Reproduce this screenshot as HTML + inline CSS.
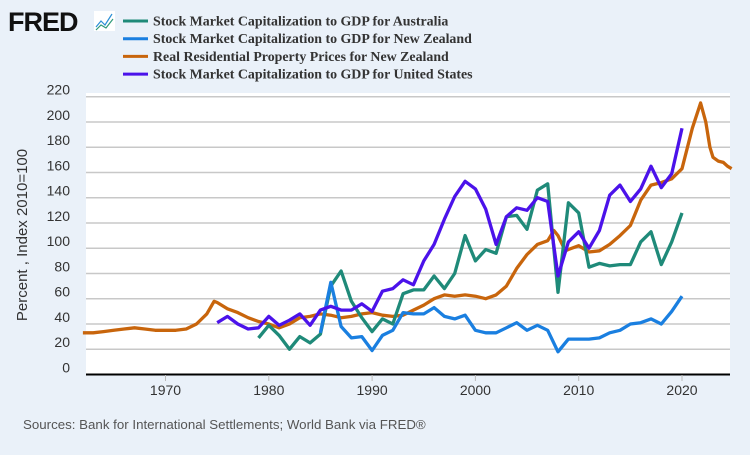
<!DOCTYPE html>
<html><head><meta charset="utf-8"><style>
body{margin:0;background:#eaf1f9;width:750px;height:450px;overflow:hidden;font-family:"Liberation Sans",sans-serif}
</style></head><body>
<svg width="750" height="450">
<rect x="0" y="0" width="750" height="450" fill="#eaf1f9"/>
<text x="8" y="31" font-size="27" font-weight="bold" fill="#111" font-family="Liberation Sans" letter-spacing="-1">FRED</text>
<g><rect x="94" y="11" width="21" height="20" fill="#fff"/><polyline points="96,27 101,21 105,25 112,14" fill="none" stroke="#2a8fd6" stroke-width="1.2"/><polyline points="96,30 101,25 106,28 113,19" fill="none" stroke="#2e9a78" stroke-width="1.2"/></g>
<g id="legend" font-family="Liberation Serif" font-weight="bold" font-size="13.9" fill="#333"></g>
<rect x="86" y="93" width="644" height="282" fill="#fff"/>
<g id="grid"></g><g id="series"></g><g id="axes"></g>
<text transform="translate(27,235) rotate(-90)" text-anchor="middle" font-size="15" fill="#333">Percent , Index 2010=100</text>
<text x="23" y="429" font-size="13.3" fill="#555">Sources: Bank for International Settlements; World Bank via FRED®</text>
</svg>
<script>
const yTicks=[0,20,40,60,80,100,120,140,160,180,200,220];
const xTicks=[1970,1980,1990,2000,2010,2020];
const seriesNames=["Stock Market Capitalization to GDP for Australia","Stock Market Capitalization to GDP for New Zealand","Real Residential Property Prices for New Zealand","Stock Market Capitalization to GDP for United States"];
const seriesColors=["#1f8a79","#1a7fe0","#c8650c","#4b12ea"];
const auYears=[1979,1980,1981,1982,1983,1984,1985,1986,1987,1988,1989,1990,1991,1992,1993,1994,1995,1996,1997,1998,1999,2000,2001,2002,2003,2004,2005,2006,2007,2008,2009,2010,2011,2012,2013,2014,2015,2016,2017,2018,2019,2020];
const auValues=[29,39,31,20,30,25,32,70,82,58,45,34,44,40,64,67,67,78,68,80,110,90,99,96,125,126,115,146,151,65,136,128,85,88,86,87,87,105,113,87,105,128];
const nzYears=[1985,1986,1987,1988,1989,1990,1991,1992,1993,1994,1995,1996,1997,1998,1999,2000,2001,2002,2003,2004,2005,2006,2007,2008,2009,2010,2011,2012,2013,2014,2015,2016,2017,2018,2019,2020];
const nzValues=[33,73,38,29,30,19,31,35,49,48,48,53,46,44,47,35,33,33,37,41,35,39,35,18,28,28,28,29,33,35,40,41,44,40,50,62];
const propYears=[1962,1963,1964,1965,1966,1967,1968,1969,1970,1971,1972,1973,1974,1974.7,1975,1976,1977,1978,1979,1980,1981,1982,1983,1984,1985,1986,1987,1988,1989,1990,1991,1992,1993,1994,1995,1996,1997,1998,1999,2000,2001,2002,2003,2004,2005,2006,2007,2007.6,2008,2008.7,2009,2010,2011,2012,2013,2014,2015,2016,2017,2018,2019,2020,2021,2021.8,2022.3,2022.7,2023,2023.5,2024,2024.4,2024.8];
const propValues=[33,33,34,35,36,37,36,35,35,35,36,40,48,58,57,52,49,45,42,40,37,40,45,46,48,47,45,46,48,49,47,46,47,51,55,60,63,62,63,62,60,63,70,84,95,103,106,114,110,98,99,102,97,98,103,110,118,138,150,152,155,163,195,215,200,180,172,169,168,165,163];
const usYears=[1975,1976,1977,1978,1979,1980,1981,1982,1983,1984,1985,1986,1987,1988,1989,1990,1991,1992,1993,1994,1995,1996,1997,1998,1999,2000,2001,2002,2003,2004,2005,2006,2007,2008,2009,2010,2011,2012,2013,2014,2015,2016,2017,2018,2019,2020];
const usValues=[41,46,40,36,37,46,39,43,48,39,51,54,51,51,56,50,66,68,75,71,90,103,123,141,153,147,131,103,125,132,130,140,137,78,105,113,100,114,142,150,137,147,165,148,159,195];
const NS="http://www.w3.org/2000/svg";
const X=y=>165.5+(y-1970)*10.33;
const Y=v=>374.5-v*(277.8/220);
function mk(t,a,p){const e=document.createElementNS(NS,t);for(const k in a)e.setAttribute(k,a[k]);p.appendChild(e);return e;}
const grid=document.getElementById('grid'),axes=document.getElementById('axes'),series=document.getElementById('series'),legend=document.getElementById('legend');
yTicks.forEach(v=>{
  if(v>0){const l=mk('line',{x1:86,x2:730,y1:Y(v),y2:Y(v),stroke:'#c8c8c8','stroke-width':1.5},grid);
  
  }
  const t=mk('text',{x:70,y:Y(v)-2,'text-anchor':'end','font-size':14,fill:'#333'},axes);t.textContent=v;
  
  
});
const ax=mk('line',{x1:86,x2:730,y1:374.5,y2:374.5,stroke:'#000','stroke-width':2},axes);


xTicks.forEach(y=>{
  const tk=mk('line',{x1:X(y),x2:X(y),y1:375,y2:381,stroke:'#bbb','stroke-width':1},axes);
  
  
  const t=mk('text',{x:X(y),y:395,'text-anchor':'middle','font-size':14,fill:'#333'},axes);t.textContent=y;
  
  
});
const data=[[auYears,auValues],[nzYears,nzValues],[propYears,propValues],[usYears,usValues]];
const order=[2,0,1,3];
order.forEach(i=>{
  const [xs,vs]=data[i];
  const pl=mk('polyline',{points:xs.map((x,j)=>X(x).toFixed(1)+','+Y(vs[j]).toFixed(1)).join(' '),fill:'none',stroke:seriesColors[i],'stroke-width':3.3,'stroke-linejoin':'round'},series);
  
  
});
seriesNames.forEach((n,i)=>{
  const y=21+i*17.7;
  const g=mk('g',{},legend);
  
  
  mk('line',{x1:123,x2:148,y1:y,y2:y,stroke:seriesColors[i],'stroke-width':3},g);
  const t=mk('text',{x:153,y:y+4.5},g);t.textContent=n;
});
</script>
</body></html>
